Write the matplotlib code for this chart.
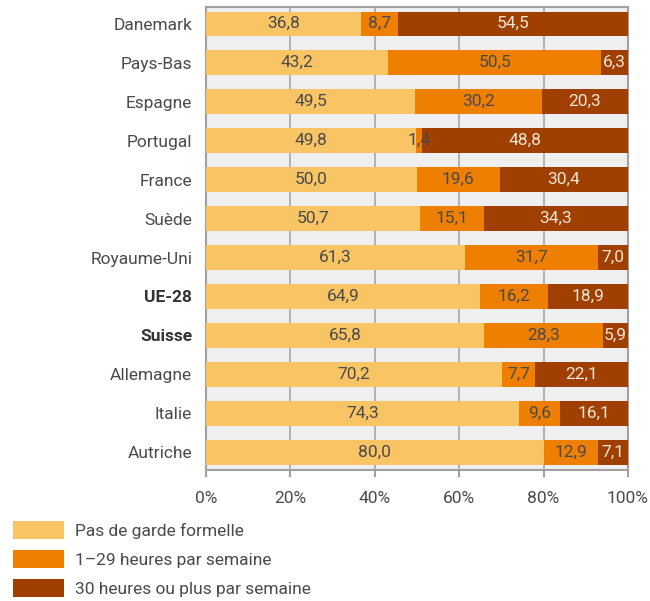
import numpy as np
import matplotlib.pyplot as plt
from matplotlib.patches import Patch

plt.rcParams['font.family'] = ['Roboto', 'DejaVu Sans']

pays = ["Danemark", "Pays-Bas", "Espagne", "Portugal", "France", "Suède",
        "Royaume-Uni", "UE-28", "Suisse", "Allemagne", "Italie", "Autriche"]
pas_de_garde = [36.8, 43.2, 49.5, 49.8, 50.0, 50.7, 61.3, 64.9, 65.8, 70.2, 74.3, 80.0]
h_1_29 = [8.7, 50.5, 30.2, 1.4, 19.6, 15.1, 31.7, 16.2, 28.3, 7.7, 9.6, 12.9]
h_30_plus = [54.5, 6.3, 20.3, 48.8, 30.4, 34.3, 7.0, 18.9, 5.9, 22.1, 16.1, 7.1]
gras = ["UE-28", "Suisse"]

series = [
    ("Pas de garde formelle", pas_de_garde, "#F9C464", "#4A4A4A"),
    ("1–29 heures par semaine", h_1_29, "#EF7F00", "#4A4A4A"),
    ("30 heures ou plus par semaine", h_30_plus, "#A04000", "#F3E4D6"),
]

fs = 12.5

fig = plt.figure(figsize=(6.5, 6.01), dpi=100)
ax = fig.add_axes([0.317, 0.218, 0.649, 0.770])
ax.set_facecolor("#EFEFEF")

y = np.arange(len(pays))
left = np.zeros(len(pays))
handles = []
for nom, vals, coul, tcoul in series:
    vals = np.array(vals)
    ax.barh(y, vals, left=left, height=0.62, color=coul, zorder=3)
    for i, v in enumerate(vals):
        ax.text(left[i] + v / 2, y[i], f"{v:.1f}".replace(".", ","),
                ha="center", va="center", fontsize=fs, color=tcoul, zorder=4)
    left += vals
    handles.append(Patch(facecolor=coul, label=nom))

ax.set_xlim(0, 100)
ax.set_ylim(11.45, -0.42)
ax.set_xticks([0, 20, 40, 60, 80, 100])
ax.set_xticklabels(["0%", "20%", "40%", "60%", "80%", "100%"])
ax.set_yticks(y)
ax.set_yticklabels(pays)
ax.tick_params(axis="y", length=0, pad=10, labelsize=fs, labelcolor="#4A4A4A")
ax.tick_params(axis="x", length=5, width=1.5, color="#A0A0A0", pad=10,
               labelsize=fs, labelcolor="#4A4A4A")
# pays en gras (moyennes / Suisse)
for lab in ax.get_yticklabels():
    if lab.get_text() in gras:
        lab.set_fontweight("bold")
        lab.set_color("#333333")
ax.grid(axis="x", color="#A8A8A8", linewidth=1.2, zorder=1)
for s in ax.spines.values():
    s.set_color("#A0A0A0")
    s.set_linewidth(1.5)

fig.legend(handles=handles, loc="upper left", bbox_to_anchor=(0.02, 0.1331),
           frameon=False, fontsize=fs, handlelength=2.94, handleheight=1.21,
           labelspacing=0.63, handletextpad=0.63, borderpad=0, borderaxespad=0,
           labelcolor="#4A4A4A")

fig.savefig("out.png", dpi=100)
